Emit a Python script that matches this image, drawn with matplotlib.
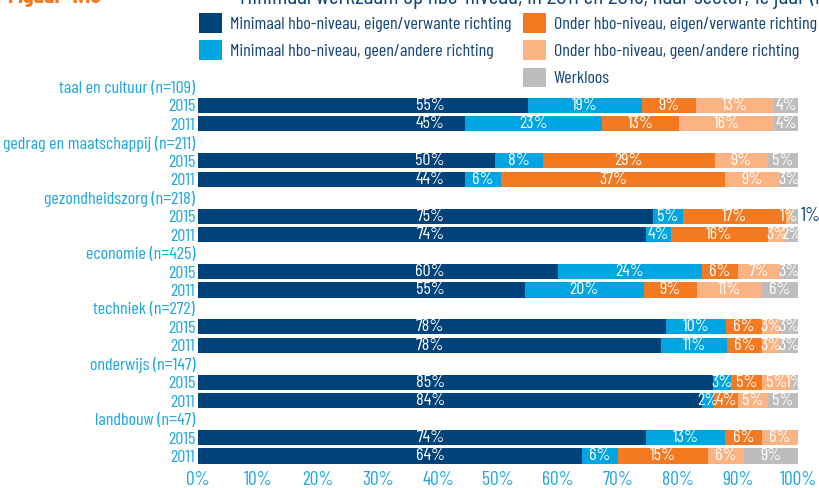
import matplotlib
matplotlib.use("Agg")
import matplotlib.pyplot as plt
from matplotlib.patches import Patch
import numpy as np

FONT = ["Barlow Condensed", "Liberation Sans", "DejaVu Sans"]
plt.rcParams["font.family"] = FONT

sectors = ["taal en cultuur (n=109)", "gedrag en maatschappij (n=211)",
           "gezondheidszorg (n=218)", "economie (n=425)", "techniek (n=272)",
           "onderwijs (n=147)", "landbouw (n=47)"]
years = ["2015", "2011"]
series = ["Minimaal hbo-niveau, eigen/verwante richting",
          "Minimaal hbo-niveau, geen/andere richting",
          "Onder hbo-niveau, eigen/verwante richting",
          "Onder hbo-niveau, geen/andere richting",
          "Werkloos"]
colors = ["#00427a", "#00a5e1", "#f47a21", "#fbb383", "#bdbdbf"]

min_eigen = [[55, 45], [50, 44], [75, 74], [60, 55], [78, 78], [85, 84], [74, 64]]
min_geen = [[19, 23], [8, 6], [5, 4], [24, 20], [10, 11], [3, 2], [13, 6]]
onder_eigen = [[9, 13], [29, 37], [17, 16], [6, 9], [6, 6], [5, 4], [6, 15]]
onder_geen = [[13, 16], [9, 9], [1, 3], [7, 11], [3, 3], [5, 5], [6, 6]]
werkloos = [[4, 4], [5, 3], [1, 2], [3, 6], [3, 3], [1, 5], [0, 9]]

outside_labels = [("gezondheidszorg (n=218)", "2015", 4)]

dark_label_x = 38.7
label_blue = "#1ca7e0"
legend_text = "#13447a"

fig = plt.figure(figsize=(8.19, 4.88), dpi=100)
ax = fig.add_axes([198 / 819, 1 - 465.2 / 488, 600 / 819, (465.2 - 77.8) / 488])

all_vals = [min_eigen, min_geen, onder_eigen, onder_geen, werkloos]
ypos, ylabels = [], []
row = 0
for si, sec in enumerate(sectors):
    ypos.append(row); ylabels.append(sec); row += 1
    for yi, yr in enumerate(years):
        vals = np.array([s[si][yi] for s in all_vals], dtype=float)
        widths = vals / vals.sum() * 100
        left = 0
        for k in range(5):
            if vals[k] > 0:
                ax.barh(row, widths[k], left=left, height=0.82, color=colors[k], linewidth=0)
                if (sec, yr, k) in outside_labels:
                    ax.text(100.4, row, f"{int(vals[k])}%", color=legend_text,
                            ha="left", va="center", fontsize=14, clip_on=False)
                else:
                    x = dark_label_x if k == 0 else left + widths[k] / 2
                    ax.text(x, row, f"{int(vals[k])}%", color="white",
                            ha="center", va="center", fontsize=13)
            left += widths[k]
        ypos.append(row); ylabels.append(yr); row += 1

ax.set_ylim(row - 0.5, -0.5)
ax.set_xlim(0, 100)
ax.set_yticks(ypos)
ax.set_yticklabels(ylabels, fontsize=13, color=label_blue)
ax.set_xticks(range(0, 101, 10))
ax.set_xticklabels([f"{v}%" for v in range(0, 101, 10)], fontsize=14, color=label_blue)
ax.tick_params(axis="both", length=0)
ax.tick_params(axis="y", pad=2)
ax.tick_params(axis="x", pad=4)
for s in ax.spines.values():
    s.set_visible(False)

handles = [Patch(facecolor=c, edgecolor="none") for c in colors]
leg_kw = dict(frameon=False, fontsize=13, handlelength=1.3, handleheight=1.3,
              handletextpad=0.4, labelspacing=0.42, borderpad=0, borderaxespad=0,
              labelcolor=legend_text, loc="upper left")
l1 = fig.legend(handles[:2], series[:2], bbox_to_anchor=(199 / 819, 1 - 13 / 488), **leg_kw)
l2 = fig.legend(handles[2:], series[2:], bbox_to_anchor=(523 / 819, 1 - 13 / 488), **leg_kw)

fig.text(8 / 819, 1 + 3 / 488, "Figuur 4.16", color="#f47a21", fontsize=17,
         fontweight="bold", ha="left", va="center")
fig.text(240 / 819, 1 + 3 / 488,
         "Minimaal werkzaam op hbo-niveau, in 2011 en 2015, naar sector, 1e jaar (n=1.429)",
         color=legend_text, fontsize=17, ha="left", va="center")

fig.savefig("out.png", dpi=100)
